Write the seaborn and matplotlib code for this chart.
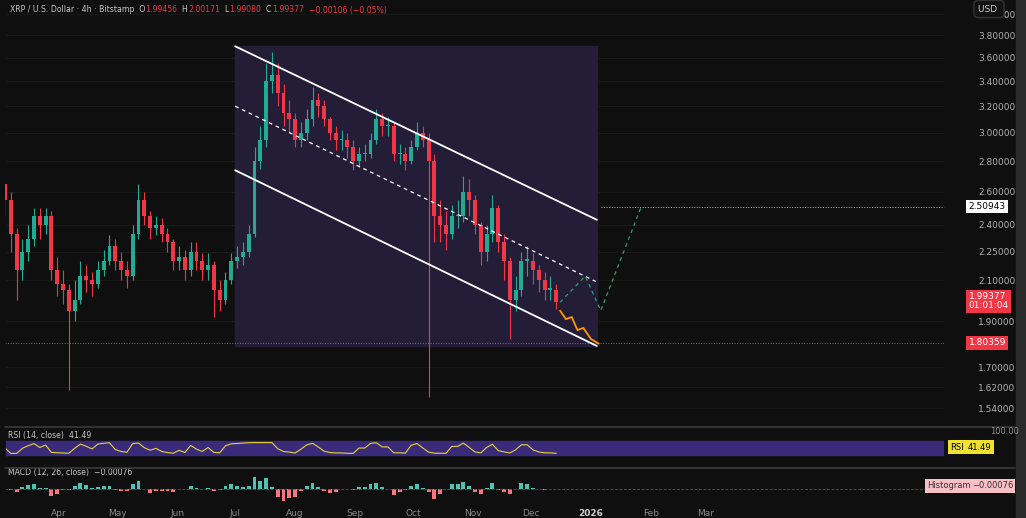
import numpy as np
import pandas as pd
import matplotlib
matplotlib.use("Agg")
import matplotlib.pyplot as plt
import matplotlib.dates as mdates
import seaborn as sns

# --- data (3-day candles) ---
closes = [2.55, 2.35, 2.15, 2.25, 2.32, 2.45, 2.40, 2.45, 2.15, 2.08,
          2.05, 1.95, 2.00, 2.12, 2.10, 2.08, 2.15, 2.20, 2.28, 2.20,
          2.15, 2.12, 2.35, 2.55, 2.45, 2.38, 2.40, 2.35, 2.30, 2.20,
          2.22, 2.15, 2.25, 2.20, 2.15, 2.18, 2.05, 2.00, 2.10, 2.20,
          2.22, 2.25, 2.35, 2.80, 2.95, 3.40, 3.45, 3.30, 3.15, 3.10,
          2.95, 3.00, 3.10, 3.25, 3.20, 3.10, 3.00, 2.95, 2.95, 2.90,
          2.80, 2.85, 2.85, 2.95, 3.10, 3.05, 3.05, 2.85, 2.85, 2.80,
          2.90, 3.00, 2.95, 2.80, 2.45, 2.40, 2.35, 2.45, 2.45, 2.60,
          2.55, 2.40, 2.25, 2.35, 2.50, 2.30, 2.20, 2.00, 2.05, 2.20,
          2.20, 2.15, 2.10, 2.05, 2.05, 1.99]
highs = [2.65, 2.60, 2.38, 2.32, 2.40, 2.50, 2.50, 2.50, 2.48, 2.22,
         2.15, 2.08, 2.10, 2.20, 2.18, 2.14, 2.20, 2.26, 2.34, 2.32,
         2.25, 2.20, 2.40, 2.65, 2.60, 2.48, 2.45, 2.44, 2.38, 2.32,
         2.28, 2.26, 2.30, 2.30, 2.24, 2.24, 2.20, 2.10, 2.14, 2.24,
         2.28, 2.30, 2.40, 2.90, 3.05, 3.55, 3.65, 3.55, 3.38, 3.25,
         3.15, 3.08, 3.18, 3.35, 3.30, 3.25, 3.12, 3.05, 3.02, 3.00,
         2.95, 2.90, 2.92, 3.00, 3.18, 3.15, 3.12, 3.08, 2.92, 2.90,
         2.95, 3.08, 3.05, 3.00, 2.85, 2.55, 2.48, 2.52, 2.55, 2.70,
         2.68, 2.58, 2.42, 2.40, 2.58, 2.52, 2.35, 2.22, 2.12, 2.25,
         2.28, 2.24, 2.18, 2.14, 2.12, 2.08]
lows = [2.45, 2.25, 2.00, 2.10, 2.20, 2.28, 2.32, 2.35, 2.10, 2.02,
        1.98, 1.61, 1.90, 1.98, 2.04, 2.02, 2.06, 2.12, 2.18, 2.15,
        2.10, 2.06, 2.10, 2.32, 2.40, 2.32, 2.34, 2.30, 2.25, 2.15,
        2.15, 2.10, 2.12, 2.15, 2.10, 2.10, 1.92, 1.95, 1.98, 2.08,
        2.16, 2.18, 2.22, 2.33, 2.75, 2.90, 3.30, 3.20, 3.05, 3.00,
        2.90, 2.90, 2.95, 3.05, 3.12, 3.05, 2.95, 2.88, 2.88, 2.82,
        2.74, 2.76, 2.80, 2.82, 2.92, 2.98, 2.98, 2.80, 2.78, 2.74,
        2.78, 2.88, 2.90, 1.58, 2.30, 2.30, 2.26, 2.32, 2.38, 2.42,
        2.45, 2.35, 2.18, 2.20, 2.30, 2.25, 2.10, 1.82, 1.95, 2.02,
        2.12, 2.08, 2.04, 2.00, 2.00, 1.96]
start_date = "2025-03-04"

chan_dates = ["2025-07-01", "2026-01-04"]
chan_top = [3.70, 2.43]
chan_mid = [3.20, 2.09]
chan_bot = [2.74, 1.79]

proj_down_dates = ["2025-12-16", "2025-12-19", "2025-12-22", "2025-12-25", "2025-12-28", "2026-01-01", "2026-01-05"]
proj_down_vals = [1.95, 1.91, 1.92, 1.86, 1.87, 1.82, 1.80]
proj_up_dates = ["2025-12-16", "2025-12-29", "2026-01-06", "2026-01-27"]
proj_up_vals = [1.99, 2.12, 1.95, 2.51]

target_price = 2.50943
support_price = 1.80359
last_price = 1.99377
price_ticks = [4.0, 3.8, 3.6, 3.4, 3.2, 3.0, 2.8, 2.6, 2.4, 2.25, 2.1, 1.9, 1.7, 1.62, 1.54]
month_ticks = ["2025-04-01", "2025-05-01", "2025-06-01", "2025-07-01", "2025-08-01", "2025-09-01",
               "2025-10-01", "2025-11-01", "2025-12-01", "2026-01-01", "2026-02-01", "2026-03-01"]
month_labels = ["Apr", "May", "Jun", "Jul", "Aug", "Sep", "Oct", "Nov", "Dec", "2026", "Feb", "Mar"]

# --- build frame ---
dates = pd.date_range(start_date, periods=len(closes), freq="3D")
df = pd.DataFrame({"date": dates, "close": closes, "high": highs, "low": lows})
df["open"] = df["close"].shift(1).fillna(2.65)
up = df["close"] >= df["open"]

# RSI(14) and MACD(12,26) on 4h bars ~ very short spans on 3-day candles
delta = df["close"].diff().fillna(0)
gain = delta.clip(lower=0).ewm(alpha=0.6, adjust=False).mean()
loss = (-delta.clip(upper=0)).ewm(alpha=0.6, adjust=False).mean()
df["rsi"] = (100 * gain / (gain + loss).replace(0, np.nan)).fillna(50)
df["rsi"] = 50 + (df["rsi"] - 50) * 0.3
macd = df["close"].ewm(span=2).mean() - df["close"].ewm(span=4).mean()
df["hist"] = macd - macd.ewm(span=3).mean()

BG = "#0f0f0f"
GREEN = "#22ab94"
RED = "#f23645"
GREY = "#8a8a8a"
sns.set_theme(style="dark", rc={"axes.facecolor": BG, "figure.facecolor": BG,
                                "axes.edgecolor": BG, "text.color": GREY})

W, H = 1026, 518
fig = plt.figure(figsize=(W / 100, H / 100), dpi=100)

def box(l, t, r, b):
    return [l / W, 1 - b / H, (r - l) / W, (b - t) / H]

xmin, xmax = pd.Timestamp("2025-03-04"), pd.Timestamp("2026-07-03")

# --- price panel ---
ax = fig.add_axes(box(5, 10, 945, 425))
ax.set_yscale("log")
ax.set_ylim(1.478, 4.04)
ax.set_xlim(xmin, xmax)
for p in price_ticks:
    ax.axhline(p, color="#1b1b1b", lw=0.6, zorder=0)

d = mdates.date2num(df["date"])
cd = pd.to_datetime(chan_dates)
ax.fill_between(mdates.date2num(cd), chan_bot[1], chan_top[0], color="#231d37", zorder=0.5)
cols = np.where(up, GREEN, RED)
ax.vlines(d, df["low"], df["high"], colors=cols, lw=0.8, zorder=2)
ax.bar(d, (df["close"] - df["open"]).abs().clip(lower=0.008), bottom=df[["open", "close"]].min(axis=1),
       width=2.0, color=cols, linewidth=0, zorder=3)

ax.plot(cd, chan_top, color="white", lw=1.3, zorder=4)
ax.plot(cd, chan_bot, color="white", lw=1.3, zorder=4)
ax.plot(cd, chan_mid, color="white", lw=0.9, ls=(0, (3, 3)), zorder=4)
ax.plot(pd.to_datetime(proj_down_dates), proj_down_vals, color="#ff9800", lw=1.3, zorder=5)
ax.plot(pd.to_datetime(proj_up_dates), proj_up_vals, color="#2e9e6b", lw=0.9, ls=(0, (3, 3)), zorder=5)
ax.hlines(target_price, pd.Timestamp("2026-01-06"), xmax, color="#bbbbbb", lw=0.7, ls=":")
ax.axhline(support_price, color=RED, lw=0.7, ls=":")

ax.yaxis.tick_right()
ax.set_yticks(price_ticks)
ax.set_yticklabels([f"{v:.5f}" for v in price_ticks], fontsize=6.5, color="#b0b0b0")
ax.yaxis.set_minor_locator(matplotlib.ticker.NullLocator())
ax.yaxis.set_minor_formatter(matplotlib.ticker.NullFormatter())
ax.tick_params(axis="y", length=0, pad=24)
ax.set_xticks([])
ax.grid(False)

lab = dict(fontsize=6.5, ha="left", va="center", transform=ax.get_yaxis_transform())
ax.text(1.025, target_price, f"{target_price:.5f}", color="black",
        bbox=dict(boxstyle="square,pad=0.25", fc="white", ec="none"), **lab)
ax.text(1.025, last_price, f"{last_price:.5f}\n01:01:04", color="white", linespacing=1.0,
        bbox=dict(boxstyle="square,pad=0.25", fc=RED, ec="none"), **lab)
ax.text(1.025, support_price, f"{support_price:.5f}", color="white",
        bbox=dict(boxstyle="square,pad=0.25", fc=RED, ec="none"), **lab)

# header, laid out piece by piece
renderer = fig.canvas.get_renderer()
x = 10 / W
for s, c in [("XRP / U.S. Dollar · 4h · Bitstamp  O", "#c8c8c8"), ("1.99456", RED), ("  H", "#c8c8c8"),
             ("2.00171", RED), ("  L", "#c8c8c8"), ("1.99080", RED), ("  C", "#c8c8c8"),
             ("1.99377", RED), ("  −0.00106 (−0.05%)", RED)]:
    t = fig.text(x, 1 - 10 / H, s, fontsize=5.6, color=c, va="center")
    x += t.get_window_extent(renderer).width / W
fig.text(978 / W, 1 - 9 / H, "USD ", fontsize=6.5, color="#d0d0d0", va="center", zorder=10,
         bbox=dict(boxstyle="round,pad=0.45", fc="#121212", ec="#333333"))

# --- RSI panel ---
axr = fig.add_axes(box(5, 430, 945, 466))
axr.axhspan(30, 70, color="#3a2a7a", zorder=0)
sns.lineplot(x=df["date"], y=df["rsi"], ax=axr, color="#e6d33a", lw=0.8)
axr.set_xlim(xmin, xmax)
axr.set_ylim(0, 100)
axr.set_xticks([]); axr.set_yticks([])
axr.set_xlabel(""); axr.set_ylabel("")
axr.text(0.003, 0.78, "RSI (14, close)  41.49", fontsize=5.6, color="#c8c8c8", transform=axr.transAxes)
fig.text(950 / W, 1 - 447 / H, "RSI", fontsize=6, color="black", va="center",
         bbox=dict(boxstyle="square,pad=0.25", fc="#f0e030", ec="none"))
fig.text(968 / W, 1 - 447 / H, "41.49", fontsize=6, color="black", va="center",
         bbox=dict(boxstyle="square,pad=0.25", fc="#f0e030", ec="none"))
fig.text(990 / W, 1 - 432 / H, "100.00", fontsize=6, color=GREY, va="center")

# --- MACD panel ---
axm = fig.add_axes(box(5, 472, 945, 505))
axm.bar(df["date"], df["hist"], width=2.0, linewidth=0,
        color=np.where(df["hist"] >= 0, "#4fc2b3", "#f7767f"))
axm.axhline(0, color="#555555", lw=0.6, ls="--")
axm.set_xlim(xmin, xmax)
lim = df["hist"].abs().max() * 1.3
axm.set_ylim(-lim, lim)
axm.set_yticks([])
axm.set_xticks(pd.to_datetime(month_ticks))
axm.set_xticklabels(month_labels, fontsize=6.5, color=GREY)
for t, lbl in zip(axm.get_xticklabels(), month_labels):
    if lbl == "2026":
        t.set_fontweight("bold"); t.set_color("#cfcfcf")
axm.tick_params(axis="x", length=0, pad=3)
axm.text(0.003, 0.9, "MACD (12, 26, close)  −0.00076", fontsize=5.6, color="#c8c8c8", transform=axm.transAxes)
fig.text(927 / W, 1 - 486 / H, "Histogram", fontsize=6, color="#333333", va="center",
         bbox=dict(boxstyle="square,pad=0.25", fc="#f7c0c4", ec="none"))
fig.text(972 / W, 1 - 486 / H, "−0.00076", fontsize=6, color="#333333", va="center",
         bbox=dict(boxstyle="square,pad=0.25", fc="#f7c0c4", ec="none"))

# panel separators and right border
for yy in [427, 468]:
    fig.add_artist(plt.Line2D([5 / W, 1015 / W], [1 - yy / H] * 2, color="#3a3a3a", lw=1.2))
fig.add_artist(plt.Rectangle((1016 / W, 0), 10 / W, 1, color="#2a2a2a", transform=fig.transFigure))

fig.savefig("out.png", dpi=100, facecolor=BG)
